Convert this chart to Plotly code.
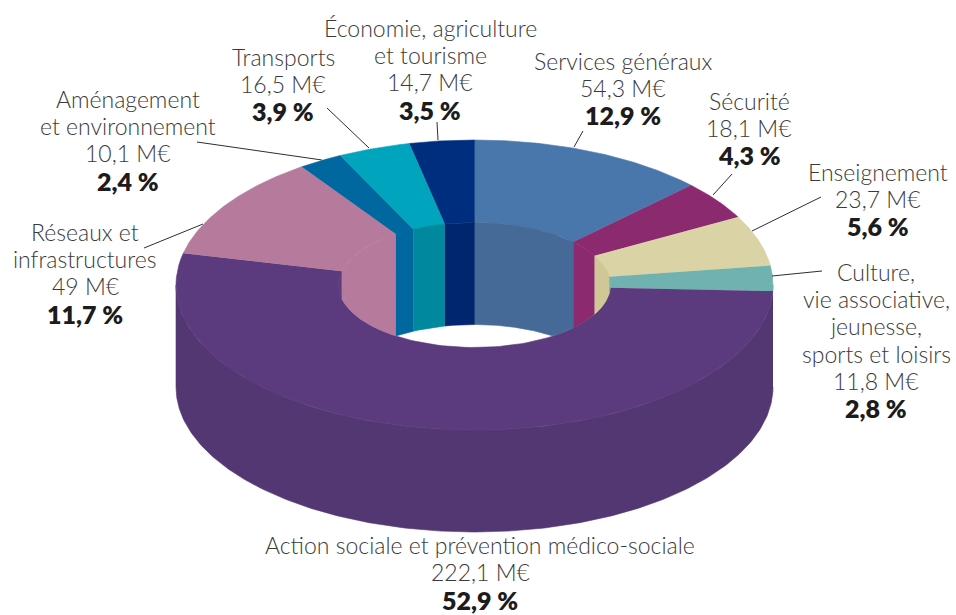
import numpy as np
import plotly.graph_objects as go

# Budget by sector, clockwise from twelve o'clock
sectors = [
    ["Services généraux"], ["Sécurité"], ["Enseignement"],
    ["Culture,", "vie associative,", "jeunesse,", "sports et loisirs"],
    ["Action sociale et prévention médico-sociale"],
    ["Réseaux et", "infrastructures"], ["Aménagement", "et environnement"],
    ["Transports"], ["Économie, agriculture", "et tourisme"],
]
amounts = [54.3, 18.1, 23.7, 11.8, 222.1, 49, 10.1, 16.5, 14.7]
shares = [12.9, 4.3, 5.6, 2.8, 52.9, 11.7, 2.4, 3.9, 3.5]

top_colors = ["#4a77ab", "#8b2a6e", "#d9d3a5", "#6fb2b0", "#5c3a7e",
              "#b57a9c", "#00679f", "#00a4bc", "#002e7e"]
wall_colors = ["#456a97", "#8b2a6e", "#cfc795", "#6fb2b0", "#5c3a7e",
               "#b57a9c", "#00679f", "#00889f", "#002670"]
side_color = "#533773"
ink = "#3a3a3a"

# Ring projection, in plot units (the axes run over the page size)
CX, CY = 474.5, 285.0
RX, RY = 298.5, 145.0
HOLE_RX, HOLE_RY = 136.0, 62.5
DEPTH = 102.0

# Text placement: centre of each block's first line, then a fixed line step
label_starts = [(623, 61), (749, 101), (878, 172), (876, 272), (480, 545.1),
                (85, 232), (128, 99), (283, 57), (430, 28)]
LINE_STEP = 27.2

leaders = [((583, 131), (574, 147)), ((732, 174), (713, 195)),
           ((821, 197), (752, 231)), ((822, 271), (772, 276)), None,
           ((144, 248), (203, 224)), ((197, 142), (322, 160)),
           ((327, 108), (369, 148)), ((437, 122), (438, 140))]


def ellipse(t, rx, ry, dy=0.0):
    return CX + rx * np.sin(t), CY - ry * np.cos(t) + dy


def polygon(x, y, color, name):
    return go.Scatter(x=x, y=y, mode="lines", fill="toself", fillcolor=color,
                      line=dict(color=color, width=0.6), name=name,
                      hoverinfo="name", showlegend=False)


fig = go.Figure()

# Outer wall, visible on the near half only
t = np.radians(np.linspace(90, 270, 240))
ox, oy = ellipse(t, RX, RY)
bx, by = ellipse(t[::-1], RX, RY, DEPTH)
fig.add_trace(polygon(np.r_[ox, bx], np.r_[oy, by], side_color, "Paroi extérieure"))

edges = np.r_[0, np.cumsum(amounts)] / np.sum(amounts) * 2 * np.pi

# Top face of the ring
for i, lines in enumerate(sectors):
    t = np.linspace(edges[i], edges[i + 1], 80)
    ox, oy = ellipse(t, RX, RY)
    ix, iy = ellipse(t[::-1], HOLE_RX, HOLE_RY)
    fig.add_trace(polygon(np.r_[ox, ix], np.r_[oy, iy], top_colors[i], " ".join(lines)))

# Inner wall of the far side, cut off by the near rim of the hole
for i, lines in enumerate(sectors):
    t = np.linspace(edges[i], edges[i + 1], 200)
    t = t[np.cos(t) >= 0]
    if t.size < 2:
        continue
    ix, iy = ellipse(t, HOLE_RX, HOLE_RY)
    rim = CY + HOLE_RY * np.sqrt(np.clip(1 - ((ix - CX) / HOLE_RX) ** 2, 0, 1))
    low = np.minimum(iy + DEPTH, rim)
    fig.add_trace(polygon(np.r_[ix, ix[::-1]], np.r_[iy, low[::-1]], wall_colors[i], " ".join(lines)))

# Leader lines
for seg in leaders:
    if seg:
        (x0, y0), (x1, y1) = seg
        fig.add_shape(type="line", x0=x0, y0=y0, x1=x1, y1=y1, xref="x", yref="y",
                      line=dict(color="#2e2e2e", width=1))


def decimal(v, pattern="{:g}"):
    return pattern.format(v).replace(".", ",")


def put_text(x, y, text, size, weight, color):
    fig.add_annotation(x=x, y=y, xref="x", yref="y", text=text, showarrow=False,
                       xanchor="center", yanchor="middle",
                       font=dict(family="Lato, sans-serif", size=size, color=color, weight=weight))


# Sector labels: name lines, amount, then the share in bold
for lines, amount, share, (lx, ly) in zip(sectors, amounts, shares, label_starts):
    rows = lines + [f"{decimal(amount)} M€"]
    for k, row in enumerate(rows):
        put_text(lx, ly + k * LINE_STEP, row, 23, 300, ink)
    put_text(lx, ly + len(rows) * LINE_STEP, f"{decimal(share, '{:.1f}')} %", 25, 800, "#1c1c1c")

fig.update_xaxes(range=[0, 956], visible=False, fixedrange=True)
fig.update_yaxes(range=[615, 0], visible=False, fixedrange=True)
fig.update_layout(width=956, height=615, margin=dict(l=0, r=0, t=0, b=0),
                  paper_bgcolor="white", plot_bgcolor="white", showlegend=False)
fig.write_html("out.html", config=dict(displayModeBar=False))
